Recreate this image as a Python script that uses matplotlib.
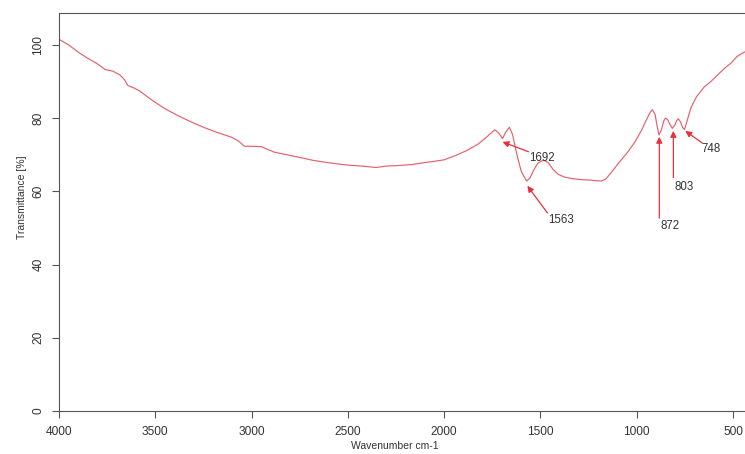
import matplotlib
matplotlib.use("Agg")
import matplotlib.pyplot as plt

# IR spectrum
wavenumber = [4000, 3950, 3900, 3850, 3800, 3762, 3720, 3684, 3660, 3643,
              3610, 3581, 3520, 3451, 3380, 3312, 3250, 3180, 3105, 3070,
              3037, 3000, 2949, 2915, 2882, 2800, 2727, 2685, 2600, 2509,
              2430, 2354, 2300, 2250, 2168, 2095, 2050, 2000, 1940, 1880,
              1821, 1780, 1738, 1718, 1697, 1680, 1661, 1645, 1620, 1600,
              1572, 1555, 1535, 1515, 1495, 1478, 1459, 1435, 1407, 1375,
              1340, 1290, 1252, 1210, 1184, 1160, 1130, 1096, 1050, 1008,
              975, 950, 930, 919, 905, 895, 885, 872, 860, 851,
              840, 827, 815, 803, 792, 784, 773, 762, 752, 740,
              719, 690, 650, 615, 580, 540, 511, 480, 449, 420]
transmittance = [101.5, 100.0, 98.0, 96.3, 94.8, 93.3, 92.8, 91.8, 90.5, 88.9,
                 88.2, 87.4, 85.0, 82.6, 80.6, 78.9, 77.5, 76.1, 74.8, 73.8,
                 72.3, 72.3, 72.2, 71.4, 70.7, 69.8, 69.0, 68.5, 67.8, 67.2,
                 66.9, 66.5, 66.9, 67.0, 67.3, 67.9, 68.2, 68.6, 69.8, 71.2,
                 73.0, 74.8, 76.8, 76.0, 74.4, 76.2, 77.5, 75.5, 69.5, 65.5,
                 62.8, 63.6, 65.8, 67.6, 68.3, 68.4, 67.8, 66.0, 64.6, 63.9,
                 63.5, 63.2, 63.1, 62.9, 62.8, 63.4, 65.3, 67.6, 70.5, 73.6,
                 76.7, 79.5, 81.6, 82.3, 81.0, 78.0, 75.4, 76.8, 79.2, 80.0,
                 79.6, 78.2, 77.2, 78.0, 79.4, 79.8, 79.0, 77.4, 76.9, 79.0,
                 82.8, 85.8, 88.5, 90.0, 91.8, 93.8, 95.0, 96.8, 97.8, 98.6]

# peak labels: (label, arrow tip, arrow tail, text position)
peak_labels = ["1692", "1563", "872", "803", "748"]
arrow_tips = [(1697, 73.5), (1568, 61.5), (883, 74.9), (810, 76.5), (748, 76.5)]
arrow_tails = [(1562, 70.8), (1464, 54.1), (883, 52.7), (810, 63.7), (660, 73.2)]
text_pos = [(1557, 69.1), (1459, 52.2), (878, 50.5), (805, 61.2), (665, 71.6)]

plt.rcParams['font.family'] = ['Liberation Sans', 'DejaVu Sans']
grey = '#555555'

fig = plt.figure(figsize=(7.45, 4.54), dpi=100)
ax = fig.add_axes([59 / 745, 43 / 454, 686 / 745, 398 / 454])

ax.plot(wavenumber, transmittance, color='#e5616b', lw=0.85)

for lab, tip, tail, pos in zip(peak_labels, arrow_tips, arrow_tails, text_pos):
    ax.annotate('', xy=tip, xytext=tail,
                arrowprops=dict(arrowstyle='-|>', color='#e8303a', lw=0.9,
                                mutation_scale=9, shrinkA=0, shrinkB=0))
    ax.text(pos[0], pos[1], lab, ha='left', va='center', fontsize=8.3, color='#333333')

ax.set_xlim(4000, 438)
ax.set_ylim(0, 108.7)
ax.set_xticks([4000, 3500, 3000, 2500, 2000, 1500, 1000, 500])
ax.set_yticks([0, 20, 40, 60, 80, 100])
ax.tick_params(direction='out', length=5, width=0.8, color=grey,
               labelsize=8.6, labelcolor='#333333')
ax.tick_params(axis='x', pad=6)
ax.tick_params(axis='y', pad=5.5)
for lbl in ax.get_yticklabels():
    lbl.set_rotation(90)
    lbl.set_va('center')

for s in ['left', 'bottom', 'top']:
    ax.spines[s].set_color(grey)
    ax.spines[s].set_linewidth(0.8)
ax.spines['right'].set_visible(False)

ax.set_xlabel('Wavenumber cm-1', fontsize=7.5, color='#333333')
ax.xaxis.set_label_coords(0.49, -0.075)
ax.set_ylabel('Transmittance [%]', fontsize=7.5, color='#333333')
ax.yaxis.set_label_coords(-0.046, 0.538)

fig.savefig('out.png', dpi=100)
